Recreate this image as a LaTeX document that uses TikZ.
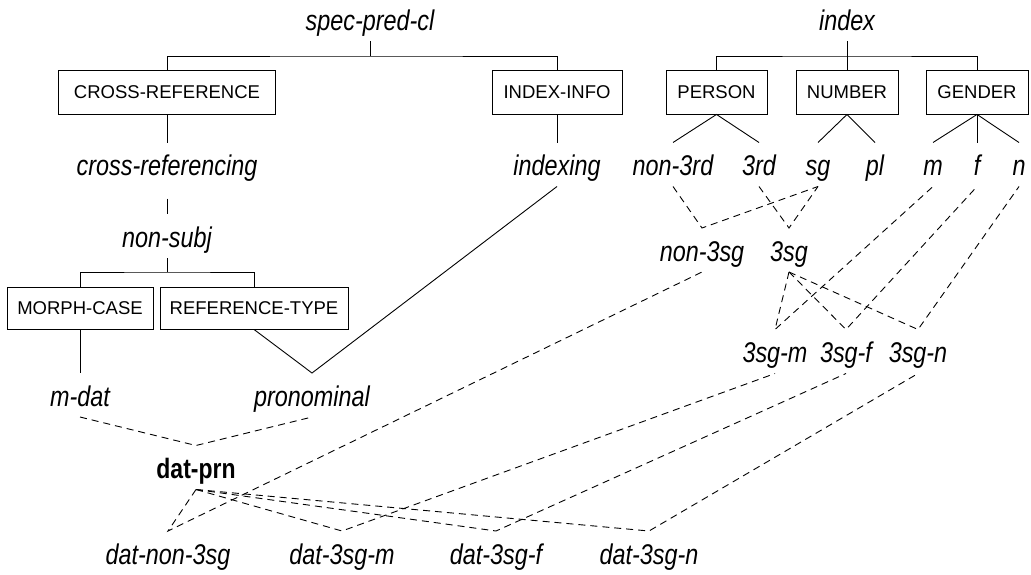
\documentclass[tikz,border=0pt]{standalone}
\usepackage{fontspec}
\newfontfamily\lblfont{Liberation Sans}[FakeStretch=0.82]
\newfontfamily\boxfont{Liberation Sans}
\usetikzlibrary{calc}

\tikzset{
  typ/.style={font=\lblfont\itshape\fontsize{28.5}{33}\selectfont,
    inner sep=0pt, outer xsep=0pt, outer ysep=6pt,
    text height=27pt, text depth=5pt, anchor=base},
  btyp/.style={typ, font=\lblfont\bfseries\fontsize{28}{33}\selectfont},
  feat/.style={draw, line width=0.9pt, font=\boxfont\fontsize{18.5}{22}\selectfont,
    inner sep=0pt, minimum height=44pt},
  link/.style={line width=0.9pt},
  inh/.style={line width=0.9pt, dash pattern=on 7pt off 5pt},
}

\begin{document}
\begin{tikzpicture}[x=1pt, y=-1pt]
\useasboundingbox (0,0) rectangle (1031,574);

% root types
\node[typ] (spc) at (370,30) {spec-pred-cl};
\node[typ] (index) at (847,30) {index};

% feature boxes, top row
\node[feat, minimum width=217pt] (crb) at (167,92) {CROSS-REFERENCE};
\node[feat, minimum width=130pt] (iib) at (557,92) {INDEX-INFO};
\node[feat, minimum width=101pt] (per) at (716.5,92) {PERSON};
\node[feat, minimum width=102pt] (num) at (847,92) {NUMBER};
\node[feat, minimum width=102pt] (gen) at (977,92) {GENDER};

% first level of values
\node[typ] (crf) at (167,175.5) {cross-referencing};
\node[typ] (idx) at (557,175.5) {indexing};
\node[typ] (n3rd) at (673,175.5) {non-3rd};
\node[typ] (t3rd) at (759,175.5) {3rd};
\node[typ] (sg) at (818,175.5) {sg};
\node[typ] (pl) at (875,175.5) {pl};
\node[typ] (gm) at (933,175.5) {m};
\node[typ] (gf) at (977,175.5) {f};
\node[typ] (gn) at (1019,175.5) {n};

% lower types
\node[typ] (nsubj) at (167,247) {non-subj};
\node[typ] (n3sg) at (702,261) {non-3sg};
\node[typ] (t3sg) at (789,261) {3sg};
\node[feat, minimum width=146pt, minimum height=42pt] (mcb) at (80,308) {MORPH-CASE};
\node[feat, minimum width=188pt, minimum height=42pt] (rtb) at (254,308) {REFERENCE-TYPE};
\node[typ] (sgm) at (775,362.5) {3sg-m};
\node[typ] (sgf) at (846,362.5) {3sg-f};
\node[typ] (sgn) at (918,362.5) {3sg-n};
\node[typ] (mdat) at (80,406) {m-dat};
\node[typ] (prn) at (312,406) {pronominal};
\node[btyp] (dprn) at (196,478.5) {dat-prn};
\node[typ] (dn3) at (168,564) {dat-non-3sg};
\node[typ] (dm) at (342,564) {dat-3sg-m};
\node[typ] (df) at (496,564) {dat-3sg-f};
\node[typ] (dn) at (649,564) {dat-3sg-n};

% solid tree edges
\coordinate (j1) at (370,56);
\coordinate (j2) at (847,56);
\coordinate (j3) at (167,272);
\draw[link] (spc.south) -- (j1);
\draw[link] (crb.north) |- (j1) -| (iib.north);
\draw[link] (index.south) -- (num.north);
\draw[link] (per.north) |- (j2) -| (gen.north);
\draw[link] (crb.south) -- (crf.north);
\draw[link] (iib.south) -- (idx.north);
\draw[link] (n3rd.north) -- (per.south) -- (t3rd.north);
\draw[link] (sg.north) -- (num.south) -- (pl.north);
\draw[link] (gm.north) -- (gen.south) -- (gn.north);
\draw[link] (gen.south) -- (gf.north);
\draw[link, shorten <=12pt] (crf.south) -- (nsubj.north);
\draw[link] (nsubj.south) -- (j3);
\draw[link] (mcb.north) |- (j3) -| (rtb.north);
\draw[link] (mcb.south) -- (mdat.north);
\draw[link] (rtb.south) -- (prn.north) -- (idx.south);

% dashed inheritance links
\draw[inh] (n3rd.south) -- (n3sg.north) -- (sg.south);
\draw[inh] (t3rd.south) -- (t3sg.north) -- (sg.south);
\foreach \c/\p in {sgm/gm, sgf/gf, sgn/gn}
  \draw[inh] (t3sg.south) -- (\c.north) -- (\p.south);
\draw[inh] (mdat.south) -- (dprn.north) -- (prn.south);
\foreach \c/\p in {dn3/n3sg, dm/sgm, df/sgf, dn/sgn}
  \draw[inh] (dprn.south) -- (\c.north) -- (\p.south);
\end{tikzpicture}
\end{document}
